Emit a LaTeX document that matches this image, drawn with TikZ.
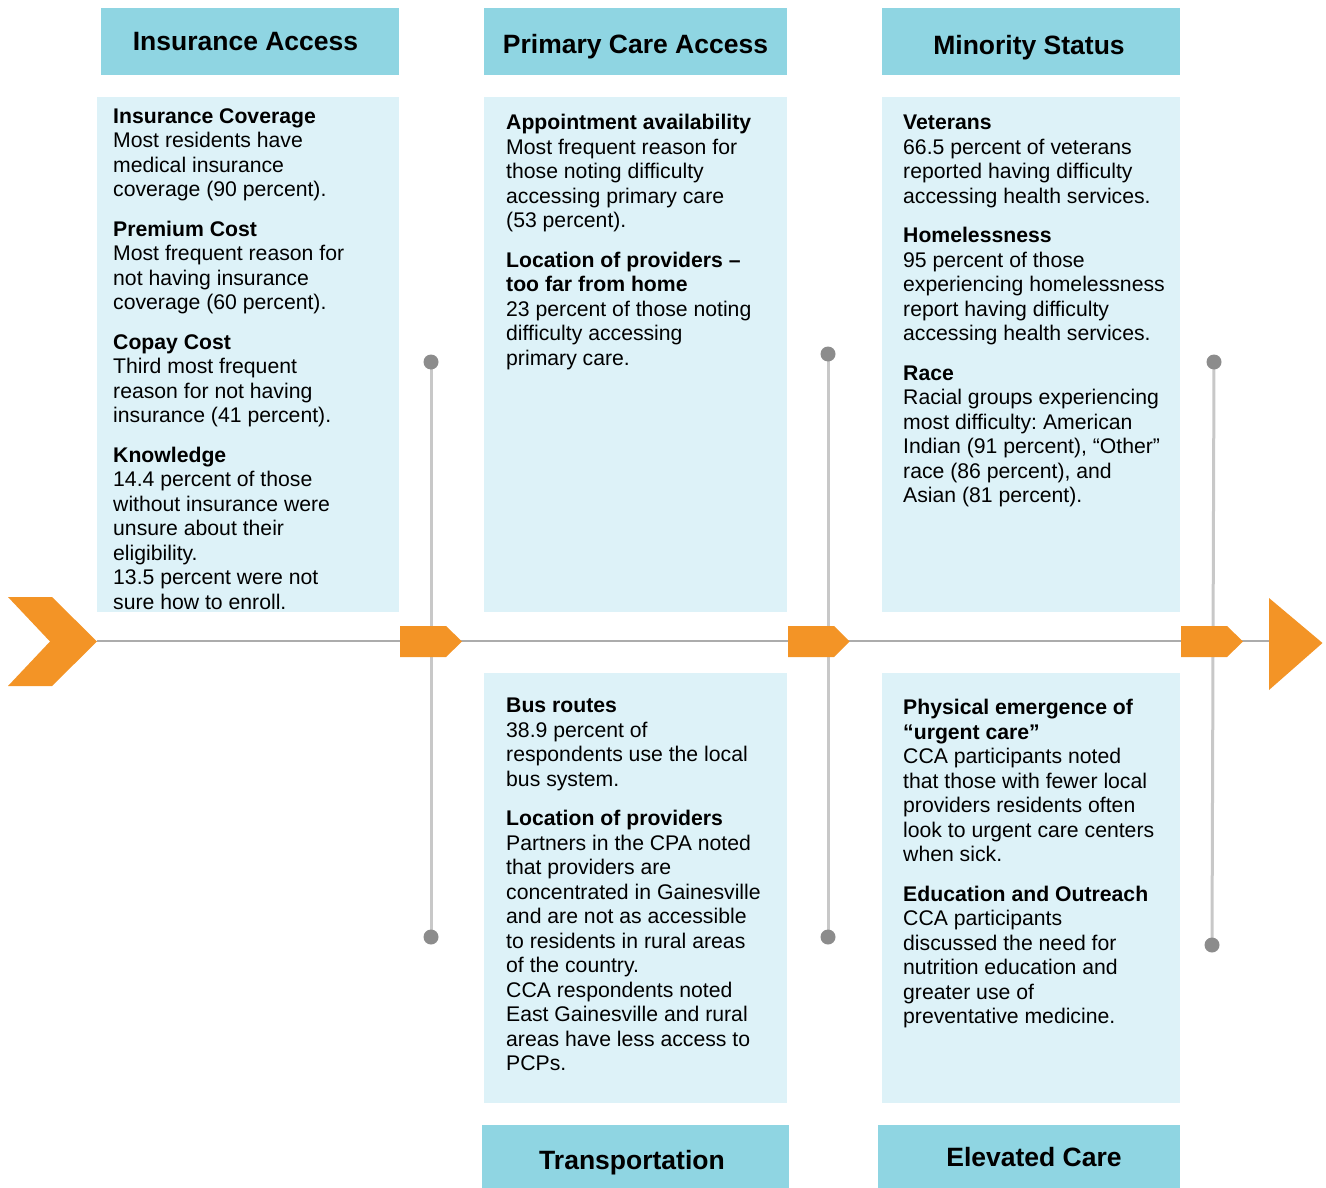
\documentclass[tikz,border=0pt]{standalone}
\usepackage{fontspec}
\setmainfont{Liberation Sans}
\usetikzlibrary{backgrounds}
\definecolor{hdr}{RGB}{143,213,226}
\definecolor{lite}{RGB}{221,242,248}
\definecolor{orng}{RGB}{243,148,38}
\definecolor{vln}{RGB}{200,200,200}
\definecolor{hln}{RGB}{172,172,172}
\definecolor{dotc}{RGB}{140,140,140}
\frenchspacing
\begin{document}
\begin{tikzpicture}[x=1pt,y=-1pt,
  hdrbox/.style={fill=hdr,draw=none,inner sep=0pt,anchor=north west},
  litebox/.style={fill=lite,draw=none,inner sep=0pt,anchor=north west},
  title/.style={font=\fontsize{26.5pt}{30pt}\selectfont\bfseries,inner sep=0pt,anchor=base},
  body/.style={font=\fontsize{21.2pt}{24.5pt}\selectfont\frenchspacing,align=left,inner sep=0pt,anchor=north west},
  dotnode/.style={circle,fill=dotc,draw=none,inner sep=0pt,minimum size=15pt},
  vline/.style={draw=vln,line width=3pt},
  hline/.style={draw=hln,line width=2pt},
  tag/.style={fill=orng,draw=none}]
\useasboundingbox (0,0) rectangle (1326,1188);

% header boxes
\node[hdrbox,minimum width=298pt,minimum height=67pt] (h1) at (101,8) {};
\node[hdrbox,minimum width=303pt,minimum height=67pt] (h2) at (484,8) {};
\node[hdrbox,minimum width=298pt,minimum height=67pt] (h3) at (882,8) {};
\node[hdrbox,minimum width=307pt,minimum height=63pt] (h4) at (482,1125) {};
\node[hdrbox,minimum width=302pt,minimum height=63pt] (h5) at (878,1125) {};

% content boxes
\node[litebox,minimum width=302pt,minimum height=515pt] (c1) at (97,97) {};
\node[litebox,minimum width=303pt,minimum height=515pt] (c2) at (484,97) {};
\node[litebox,minimum width=298pt,minimum height=515pt] (c3) at (882,97) {};
\node[litebox,minimum width=303pt,minimum height=430pt] (c4) at (484,673) {};
\node[litebox,minimum width=298pt,minimum height=430pt] (c5) at (882,673) {};

% titles
\node[title] (t1) at (245.5,50.5) {Insurance Access};
\node[title] (t2) at (635.5,53.5) {Primary Care Access};
\node[title] (t3) at (1029,54.5) {Minority Status};
\node[title] (t4) at (632,1169.5) {Transportation};
\node[title] (t5) at (1034,1166.5) {Elevated Care};

% body texts
\node[body] (b1) at (113,106) {\strut\textbf{Insurance Coverage}\\
Most residents have\\
medical insurance\\
coverage (90 percent).\\[15pt]
\textbf{Premium Cost}\\
Most frequent reason for\\
not having insurance\\
coverage (60 percent).\\[15pt]
\textbf{Copay Cost}\\
Third most frequent\\
reason for not having\\
insurance (41 percent).\\[15pt]
\textbf{Knowledge}\\
14.4 percent of those\\
without insurance were\\
unsure about their\\
eligibility.\\
13.5 percent were not\\
sure how to enroll.};

\node[body] (b2) at (506,112.5) {\strut\textbf{Appointment availability}\\
Most frequent reason for\\
those noting difficulty\\
accessing primary care\\
(53 percent).\\[15pt]
\textbf{Location of providers –}\\
\textbf{too far from home}\\
23 percent of those noting\\
difficulty accessing\\
primary care.};

\node[body] (b3) at (903,112.5) {\strut\textbf{Veterans}\\
66.5 percent of veterans\\
reported having difficulty\\
accessing health services.\\[15pt]
\textbf{Homelessness}\\
95 percent of those\\
experiencing homelessness\\
report having difficulty\\
accessing health services.\\[15pt]
\textbf{Race}\\
Racial groups experiencing\\
most difficulty: American\\
Indian (91 percent), “Other”\\
race (86 percent), and\\
Asian (81 percent).};

\node[body] (b4) at (506,695.5) {\strut\textbf{Bus routes}\\
38.9 percent of\\
respondents use the local\\
bus system.\\[15pt]
\textbf{Location of providers}\\
Partners in the CPA noted\\
that providers are\\
concentrated in Gainesville\\
and are not as accessible\\
to residents in rural areas\\
of the country.\\
CCA respondents noted\\
East Gainesville and rural\\
areas have less access to\\
PCPs.};

\node[body] (b5) at (903,697.5) {\strut\textbf{Physical emergence of}\\
\textbf{“urgent care”}\\
CCA participants noted\\
that those with fewer local\\
providers residents often\\
look to urgent care centers\\
when sick.\\[15pt]
\textbf{Education and Outreach}\\
CCA participants\\
discussed the need for\\
nutrition education and\\
greater use of\\
preventative medicine.};

% dots at the ends of the vertical lines
\node[dotnode] (d1t) at (431,362) {};
\node[dotnode] (d1b) at (431,937) {};
\node[dotnode] (d2t) at (828,354) {};
\node[dotnode] (d2b) at (828,937) {};
\node[dotnode] (d3t) at (1214,362) {};
\node[dotnode] (d3b) at (1212,945) {};

% timeline ends
\coordinate (start) at (97,641);
\coordinate (finish) at (1270,641);

\begin{pgfonlayer}{background}
\draw[hline] (start) -- (finish);
\draw[vline] (d1t.center) -- (d1b.center);
\draw[vline] (d2t.center) -- (d2b.center);
\draw[vline] (d3t.center) -- (d3b.center);
\end{pgfonlayer}

% chevron and end triangle
\fill[orng] (8,597) -- (52,597) -- (97,641.5) -- (52,686) -- (8,686) -- (50,641.5) -- cycle;
\fill[orng] (1269,598) -- (1322.5,643) -- (1269,690) -- cycle;

% tags
\fill[tag] (400,626) -- (446,626) -- (462,641.5) -- (446,657) -- (400,657) -- cycle;
\fill[tag] (788,626) -- (834,626) -- (849.5,641.5) -- (834,657) -- (788,657) -- cycle;
\fill[tag] (1181,626) -- (1227,626) -- (1243,641.5) -- (1227,657) -- (1181,657) -- cycle;
\end{tikzpicture}
\end{document}
